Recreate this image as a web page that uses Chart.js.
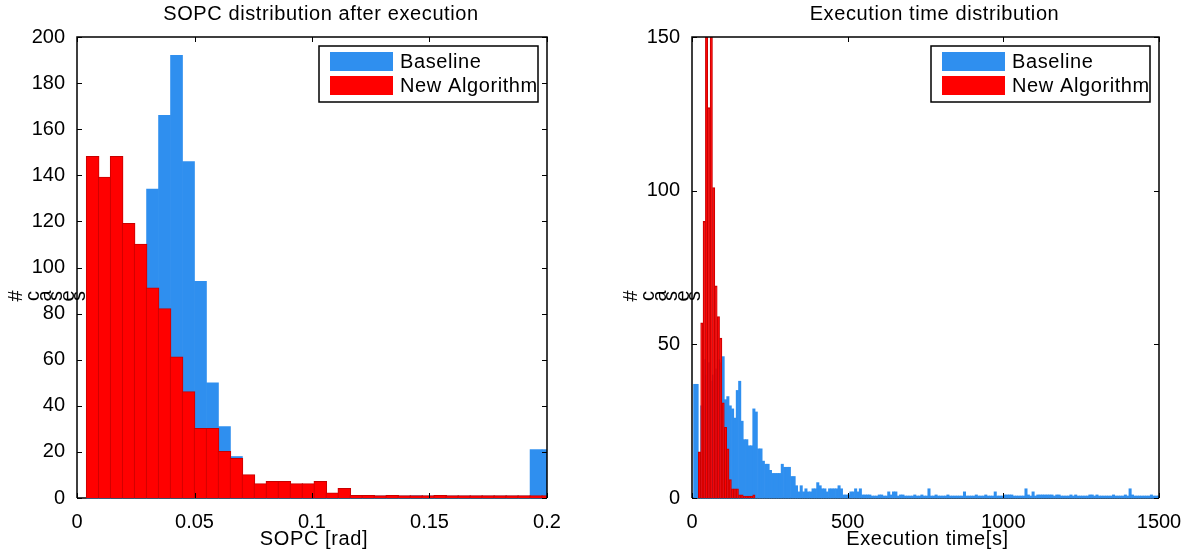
<!DOCTYPE html>
<html>
<head>
<meta charset="utf-8">
<title>SOPC / execution time distributions</title>
<script src="https://cdn.jsdelivr.net/npm/chart.js"></script>
<style>
    html, body { margin: 0; padding: 0; background: #fff; }
    .panel { position: absolute; top: 0; width: 598px; height: 558px; }
    #left-panel { left: 0; }
    #right-panel { left: 598px; }
</style>
</head>
<body>
<div class="panel" id="left-panel"><canvas id="sopcChart" width="598" height="558"></canvas></div>
<div class="panel" id="right-panel"><canvas id="timeChart" width="598" height="558"></canvas></div>
<script>
// Histogram counts

const seriesLabels = ['Baseline', 'New Algorithm'];

// SOPC histogram: first bin edge 0.0041 rad, bin width 0.0051 rad
const sopcBinStart = 0.0041;
const sopcBinWidth = 0.0051;
const sopcBaseline = [10, 25, 45, 65, 90, 134, 166, 192, 146, 94, 50, 31, 18,
    5, 3, 2, 1, 1, 0, 0, 0, 0, 0, 0, 0, 0, 0, 1, 0, 0, 0, 0, 0, 0, 0, 0, 0, 21, 21];
const sopcNewAlgorithm = [148, 139, 148, 119, 110, 91, 82, 61, 46, 30, 30, 20, 17,
    10, 6, 7, 7, 6, 6, 7, 2, 4, 1, 1, 0, 1, 0, 0, 0, 1, 0, 0, 0, 0, 0, 0, 0, 0, 0];
const sopcXTicks = [0, 0.05, 0.1, 0.15, 0.2];
const sopcYTicks = [0, 20, 40, 60, 80, 100, 120, 140, 160, 180, 200];

// Execution time histogram: bins of 7.6 s starting at 5 s, new algorithm starts at bin 2
const execBinStart = 5.0;
const execBinWidth = 7.6;
const execNewFirstBin = 2;
const execBaseline = [
    37, 37, 12, 30, 45, 40, 44, 38, 40, 42,
    45, 44, 46, 32, 33, 30, 29, 26, 35, 38,
    25, 19, 19, 17, 17, 29, 28, 16, 16, 12,
    11, 11, 9, 8, 8, 8, 8, 11, 10, 10,
    10, 7, 7, 4, 2, 4, 2, 3, 2, 2,
    3, 3, 5, 4, 3, 3, 2, 3, 3, 3,
    3, 4, 3, 1, 1, 1, 2, 2, 3, 2,
    3, 1, 1, 1, 1, 0, 0, 0, 1, 1,
    0, 0, 2, 1, 2, 2, 0, 1, 1, 0,
    0, 0, 0, 1, 0, 0, 1, 0, 0, 3,
    0, 0, 1, 0, 0, 0, 0, 1, 0, 0,
    0, 0, 0, 0, 2, 0, 0, 0, 0, 1,
    0, 0, 0, 1, 0, 0, 0, 2, 0, 0,
    0, 1, 1, 1, 1, 0, 0, 0, 0, 0,
    3, 1, 0, 2, 0, 1, 1, 1, 1, 1,
    1, 1, 0, 1, 1, 0, 0, 0, 0, 1,
    0, 1, 0, 0, 0, 0, 0, 1, 1, 0,
    1, 0, 0, 0, 0, 0, 0, 1, 0, 0,
    0, 0, 1, 0, 3, 1, 0, 0, 0, 0,
    0, 0, 0, 1, 0, 0, 0
];
const execNewAlgorithm = [15, 57, 90, 180, 127, 165, 101, 69, 59, 52, 31, 23, 16,
    6, 3, 3, 3, 1, 1, 0, 0, 0, 0, 1];
const execXTicks = [0, 500, 1000, 1500];
const execYTicks = [0, 50, 100, 150];

const FONT_FAMILY = "'Liberation Sans', Arial, Helvetica, sans-serif";
const FONT_SIZE = 20;
const BLUE = '#2F8FEF';
const RED = '#FF0000';
const RED_EDGE = '#C80000';
const TICK_LEN = 5;

function toBins(counts, start, width, firstBin = 0) {
    return counts.map((count, i) => ({ x: start + width * (firstBin + i + 0.5), y: count }));
}

function spacedText(ctx, text, x, y) {
    ctx.letterSpacing = '0.6px';
    ctx.fillText(text, x, y);
    ctx.letterSpacing = '0px';
}

// the y label of the original comes out with every glyph turned on its side
function sidewaysGlyphs(ctx, text, x, y) {
    let cursor = x;
    for (const ch of text) {
        const adv = ctx.measureText(ch).width + 0.9;
        ctx.save();
        ctx.translate(cursor + adv / 2, y);
        ctx.rotate(-Math.PI / 2);
        ctx.textAlign = 'center';
        ctx.textBaseline = 'middle';
        ctx.fillText(ch, 0, 0);
        ctx.restore();
        cursor += adv;
    }
}

const matlabAxes = {
    id: 'matlabAxes',
    beforeDatasetsDraw(chart) {
        const { ctx, chartArea: a } = chart;
        ctx.save();
        ctx.strokeStyle = '#000';
        ctx.lineWidth = 1.5;
        ctx.beginPath();
        ctx.moveTo(a.left, a.bottom);
        ctx.lineTo(a.right, a.bottom);
        ctx.stroke();
        ctx.restore();
    },
    afterDatasetsDraw(chart, args, opts) {
        const { ctx, chartArea: a, scales } = chart;
        ctx.save();
        ctx.strokeStyle = '#000';
        ctx.lineWidth = 1.5;
        ctx.beginPath();
        ctx.moveTo(a.left, a.bottom);
        ctx.lineTo(a.left, a.top);
        ctx.lineTo(a.right, a.top);
        ctx.lineTo(a.right, a.bottom);
        ctx.stroke();

        ctx.lineWidth = 1;
        ctx.beginPath();
        opts.xTicks.forEach(v => {
            const px = Math.round(scales.x.getPixelForValue(v)) + 0.5;
            ctx.moveTo(px, a.bottom);
            ctx.lineTo(px, a.bottom - TICK_LEN);
            ctx.moveTo(px, a.top);
            ctx.lineTo(px, a.top + TICK_LEN);
        });
        opts.yTicks.forEach(v => {
            const py = Math.round(scales.y.getPixelForValue(v)) + 0.5;
            ctx.moveTo(a.left, py);
            ctx.lineTo(a.left + TICK_LEN, py);
            ctx.moveTo(a.right, py);
            ctx.lineTo(a.right - TICK_LEN, py);
        });
        ctx.stroke();
        ctx.restore();
    },
    afterDraw(chart, args, opts) {
        const { ctx, chartArea: a } = chart;
        const mid = (a.left + a.right) / 2;
        ctx.save();
        ctx.fillStyle = '#000';
        ctx.font = `${FONT_SIZE}px ${FONT_FAMILY}`;
        ctx.textBaseline = 'middle';

        ctx.textAlign = 'center';
        spacedText(ctx, opts.title, mid + 9, 14);
        spacedText(ctx, opts.xTitle, mid + 2, 539);

        ctx.textAlign = 'left';
        sidewaysGlyphs(ctx, opts.yTitle, a.left - 67, 296);

        // legend box in the upper right corner
        const boxW = 219, boxH = 56;
        const bx = a.right - 9 - boxW;
        const by = a.top + 9;
        ctx.fillStyle = '#fff';
        ctx.fillRect(bx, by, boxW, boxH);
        chart.data.datasets.forEach((ds, i) => {
            const sy = by + 6 + i * 24;
            ctx.fillStyle = ds.backgroundColor;
            ctx.fillRect(bx + 11, sy, 63, 19);
            ctx.fillStyle = '#000';
            spacedText(ctx, ds.label, bx + 81, sy + 10);
        });
        ctx.strokeStyle = '#000';
        ctx.lineWidth = 1.5;
        ctx.strokeRect(bx, by, boxW, boxH);
        ctx.restore();
    }
};

function buildHistogram(canvasId, panel) {
    const ctx = document.getElementById(canvasId).getContext('2d');
    const tickFont = { family: FONT_FAMILY, size: FONT_SIZE };
    const barClip = { left: 0, top: 0, right: 0, bottom: 2 };

    return new Chart(ctx, {
        type: 'bar',
        data: {
            datasets: [{
                label: seriesLabels[0],
                data: panel.baseline,
                backgroundColor: BLUE,
                borderWidth: 0,
                minBarLength: 2,
                grouped: false,
                order: 2,
                clip: barClip
            }, {
                label: seriesLabels[1],
                data: panel.newAlgorithm,
                backgroundColor: RED,
                borderColor: RED_EDGE,
                borderWidth: 1,
                minBarLength: 2,
                inflateAmount: panel.redInflate,
                grouped: false,
                order: 1,
                clip: barClip
            }]
        },
        options: {
            responsive: false,
            animation: false,
            events: [],
            barPercentage: 1,
            categoryPercentage: 1,
            layout: { padding: { top: 37, right: 598 - panel.plotRight, left: 0, bottom: 0 } },
            plugins: {
                legend: { display: false },
                title: { display: false },
                tooltip: { enabled: false },
                matlabAxes: {
                    title: panel.title,
                    xTitle: panel.xTitle,
                    yTitle: '# cases',
                    xTicks: panel.xTicks,
                    yTicks: panel.yTicks
                }
            },
            scales: {
                x: {
                    type: 'linear',
                    min: panel.xTicks[0],
                    max: panel.xTicks[panel.xTicks.length - 1],
                    offset: false,
                    grid: { display: false },
                    border: { display: false },
                    afterBuildTicks: s => { s.ticks = panel.xTicks.map(v => ({ value: v })); },
                    afterFit: s => { s.height = 60; },
                    ticks: {
                        font: tickFont,
                        color: '#000',
                        padding: 4,
                        maxRotation: 0,
                        autoSkip: false,
                        callback: v => String(v)
                    }
                },
                y: {
                    min: 0,
                    max: panel.yTicks[panel.yTicks.length - 1],
                    grid: { display: false },
                    border: { display: false },
                    afterBuildTicks: s => { s.ticks = panel.yTicks.map(v => ({ value: v })); },
                    afterFit: s => { s.width = panel.plotLeft; },
                    ticks: {
                        font: tickFont,
                        color: '#000',
                        padding: 4,
                        autoSkip: false,
                        callback: v => String(v)
                    }
                }
            }
        },
        plugins: [matlabAxes]
    });
}

document.addEventListener('DOMContentLoaded', () => {
    buildHistogram('sopcChart', {
        title: 'SOPC distribution after execution',
        xTitle: 'SOPC [rad]',
        plotLeft: 77,
        plotRight: 547,
        redInflate: 0.8,
        xTicks: sopcXTicks,
        yTicks: sopcYTicks,
        baseline: toBins(sopcBaseline, sopcBinStart, sopcBinWidth),
        newAlgorithm: toBins(sopcNewAlgorithm, sopcBinStart, sopcBinWidth)
    });

    buildHistogram('timeChart', {
        title: 'Execution time distribution',
        xTitle: 'Execution time[s]',
        plotLeft: 94,
        plotRight: 561,
        redInflate: 'auto',
        xTicks: execXTicks,
        yTicks: execYTicks,
        baseline: toBins(execBaseline, execBinStart, execBinWidth),
        newAlgorithm: toBins(execNewAlgorithm, execBinStart, execBinWidth, execNewFirstBin)
    });
});
</script>
</body>
</html>
